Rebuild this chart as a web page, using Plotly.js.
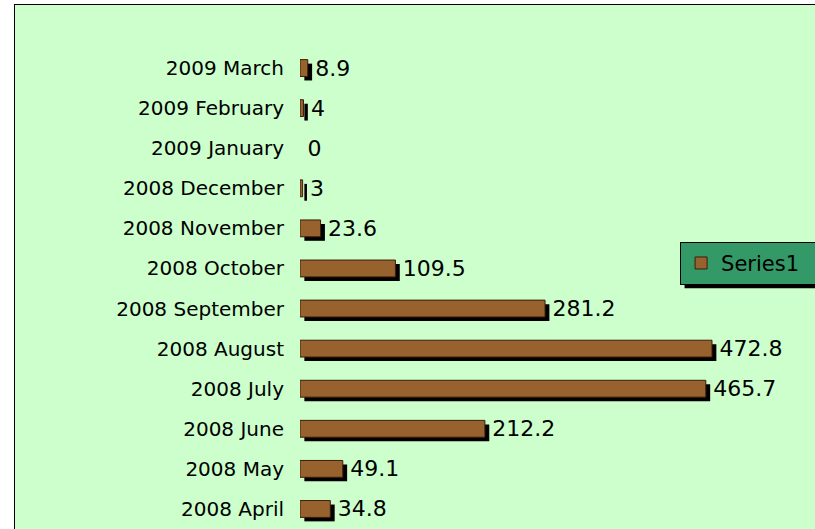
<!DOCTYPE html>
<html>
<head>
<meta charset="utf-8">
<script src="https://cdn.plot.ly/plotly-3.0.1.min.js"></script>
<style>
html,body{margin:0;padding:0;width:815px;height:529px;overflow:hidden;background:#fff;}
#frame{position:absolute;left:14px;top:4px;width:820px;height:540px;border-left:1px solid #000;border-top:1px solid #000;background:#CCFFCC;}
#chart{position:absolute;left:0;top:0;width:800px;height:524px;}
</style>
</head>
<body>
<div id="frame"><div id="chart"></div></div>
<script>
// categories from bottom to top
const months = ["2008 April","2008 May","2008 June","2008 July","2008 August","2008 September","2008 October","2008 November","2008 December","2009 January","2009 February","2009 March"];
const values = [34.8, 49.1, 212.2, 465.7, 472.8, 281.2, 109.5, 23.6, 3, 0, 4, 8.9];
const labels = values.map(v => String(v));
const seriesName = "Series1";

const barColor = "#98622F";
const barLine = "#3a1f0a";

const shadow = {
  type: "bar", orientation: "h",
  y: months, x: values, base: 5,
  yaxis: "y", xaxis: "x",
  width: 0.42,
  marker: {color: "#000", line: {width: 0}},
  showlegend: false, hoverinfo: "skip"
};
const main = {
  type: "bar", orientation: "h", name: seriesName,
  y: months, x: values,
  yaxis: "y2", xaxis: "x",
  width: 0.42,
  marker: {color: barColor, line: {color: barLine, width: values.map(v => v > 0 ? 1 : 0)}},
  text: labels, texttemplate: "\u2009%{text}", textposition: "outside",
  constraintext: "none", cliponaxis: false,
  textfont: {family: "DejaVu Sans", size: 22, color: "#000"}
};

const layout = {
  width: 800, height: 524,
  margin: {l: 285, r: 0, t: 43, b: 0, autoexpand: false},
  paper_bgcolor: "rgba(0,0,0,0)", plot_bgcolor: "rgba(0,0,0,0)",
  xaxis: {range: [0, 591], visible: false, fixedrange: true},
  yaxis: {type: "category", categoryorder: "array", categoryarray: months,
          range: [-0.4, 11.6], showticklabels: false, showgrid: false, zeroline: false, showline: false, ticks: ""},
  yaxis2: {type: "category", categoryorder: "array", categoryarray: months, overlaying: "y", side: "left",
           range: [-0.5, 11.5], showgrid: false, zeroline: false, showline: false, ticks: "",
           ticklabelstandoff: 15,
           tickfont: {family: "DejaVu Sans", size: 20, color: "#000"}},
  showlegend: true,
  legend: {x: 0.738, y: 0.597, xanchor: "left", yanchor: "top",
           orientation: "h", entrywidth: 118, itemwidth: 30,
           bgcolor: "#339966", bordercolor: "#000", borderwidth: 1,
           font: {family: "DejaVu Sans", size: 21, color: "#000"}}
};

Plotly.newPlot("chart", [shadow, main], layout, {displayModeBar: false, staticPlot: true}).then(gd => {
  // drop shadow under the legend box, placed from the legend's drawn size
  const bg = gd.querySelector(".legend .bg");
  const fl = gd._fullLayout;
  if (!bg) return;
  const r = bg.getBoundingClientRect();
  const c = gd.getBoundingClientRect();
  const toPx = v => (v - fl.margin.l) / fl._size.w;
  const toPy = v => 1 - (v - fl.margin.t) / fl._size.h;
  const x0 = r.left - c.left + 4, x1 = r.right - c.left + 4;
  const y0 = r.top - c.top + 4, y1 = r.bottom - c.top + 4;
  Plotly.relayout(gd, {shapes: [{type: "rect", xref: "paper", yref: "paper",
    x0: toPx(x0), x1: toPx(x1), y0: toPy(y1), y1: toPy(y0),
    fillcolor: "#000", line: {width: 0}, layer: "above"}]});
});
</script>
</body>
</html>
